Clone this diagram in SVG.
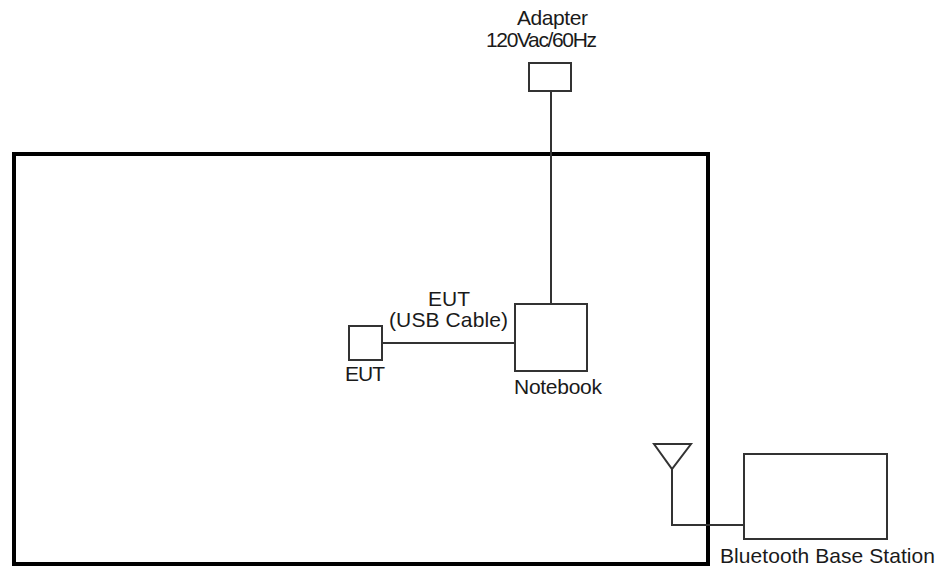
<svg xmlns="http://www.w3.org/2000/svg" width="941" height="569" viewBox="0 0 941 569">
<style>
.box{fill:#fff;stroke:#333;stroke-width:2}
.ln{fill:none;stroke:#333;stroke-width:2}
.t{font-family:"Liberation Sans",Arial,sans-serif;font-size:21px;fill:#1a1a1a}
</style>
<rect width="941" height="569" fill="#fff"/>
<g id="room"><rect x="14" y="154" width="694" height="410" fill="none" stroke="#000" stroke-width="4"/></g>
<g id="connectors">
<line class="ln" x1="551" y1="91" x2="551" y2="304"/>
<line class="ln" x1="382" y1="343" x2="515" y2="343" stroke="#555"/>
<polyline class="ln" points="672,469 672,525 744,525"/>
</g>
<g id="adapter">
<rect class="box" x="529" y="63" width="42" height="28"/>
<text class="t" x="517" y="25" textLength="71">Adapter</text>
<text class="t" x="486" y="47" textLength="111">120Vac/60Hz</text>
</g>
<g id="notebook">
<rect class="box" x="515" y="304" width="72" height="67"/>
<text class="t" x="514" y="394" textLength="88">Notebook</text>
</g>
<g id="eut">
<rect class="box" x="349" y="326" width="33" height="34"/>
<text class="t" x="345" y="381" textLength="40">EUT</text>
</g>
<g id="cable-label">
<text class="t" x="428" y="306" textLength="42">EUT</text>
<text class="t" x="389" y="327" textLength="119">(USB Cable)</text>
</g>
<g id="antenna">
<polygon class="box" points="654,444 691,444 672,469"/>
</g>
<g id="base-station">
<rect class="box" x="744" y="454" width="143" height="85"/>
<text class="t" x="720" y="563" textLength="215">Bluetooth Base Station</text>
</g>
</svg>
